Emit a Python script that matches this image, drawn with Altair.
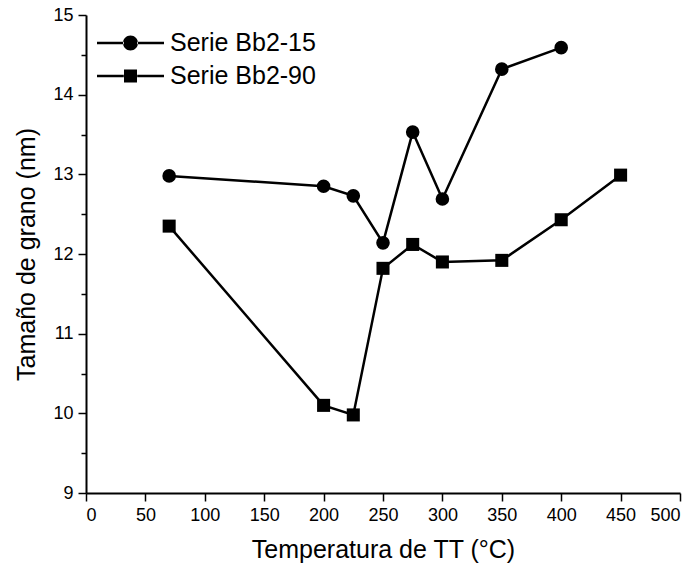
import altair as alt
import pandas as pd

# ---- data ----
series_names = ["Serie Bb2-15", "Serie Bb2-90"]

temp_bb2_15 = [70, 200, 225, 250, 275, 300, 350, 400]
size_bb2_15 = [12.98, 12.85, 12.73, 12.14, 13.53, 12.69, 14.32, 14.59]

temp_bb2_90 = [70, 200, 225, 250, 275, 300, 350, 400, 450]
size_bb2_90 = [12.35, 10.10, 9.98, 11.82, 12.12, 11.90, 11.92, 12.43, 12.99]

x_ticks = [0, 50, 100, 150, 200, 250, 300, 350, 400, 450, 500]
y_ticks = [9, 9.5, 10, 10.5, 11, 11.5, 12, 12.5, 13, 13.5, 14, 14.5, 15]

rows = []
for t, s in zip(temp_bb2_15, size_bb2_15):
    rows.append({"serie": series_names[0], "temp": t, "size": s})
for t, s in zip(temp_bb2_90, size_bb2_90):
    rows.append({"serie": series_names[1], "temp": t, "size": s})
df = pd.DataFrame(rows)

FONT = "Liberation Sans"

x_enc = alt.X(
    "temp:Q",
    scale=alt.Scale(domain=[0, 500], nice=False, zero=False),
    axis=alt.Axis(
        values=x_ticks,
        title="Temperatura de TT (°C)",
        format="d",
        tickSize=8,
        labelPadding=5,
        titlePadding=13,
    ),
)
y_enc = alt.Y(
    "size:Q",
    scale=alt.Scale(domain=[9, 15], nice=False, zero=False),
    axis=alt.Axis(
        values=y_ticks,
        title="Tamaño de grano (nm)",
        labelExpr="datum.value % 1 === 0 ? '' + datum.value : ''",
        tickSize={"condition": {"test": "datum.value % 1 === 0", "value": 8}, "value": 5},
        labelPadding=5,
        titlePadding=13,
    ),
)

base = alt.Chart(df)

lines = base.mark_line(color="black", strokeWidth=2.5).encode(
    x=x_enc, y=y_enc, detail="serie:N"
)

points = base.mark_point(filled=True, color="black", opacity=1).encode(
    x=x_enc,
    y=y_enc,
    shape=alt.Shape(
        "serie:N",
        scale=alt.Scale(domain=series_names, range=["circle", "square"]),
        legend=None,
    ),
    size=alt.Size(
        "serie:N",
        scale=alt.Scale(domain=series_names, range=[185, 170]),
        legend=None,
    ),
)

seg = "M-1,-0.037L-0.2,-0.037L-0.2,0.037L-1,0.037Z M0.2,-0.037L1,-0.037L1,0.037L0.2,0.037Z"
circle_path = seg + " M-0.224,0A0.224,0.224 0 1,0 0.224,0A0.224,0.224 0 1,0 -0.224,0Z"
square_path = seg + " M-0.194,-0.194L0.194,-0.194L0.194,0.194L-0.194,0.194Z"

legend_layer = (
    base.transform_filter("false")
    .mark_point(filled=True, color="black", opacity=1)
    .encode(
        x=x_enc,
        y=y_enc,
        shape=alt.Shape(
            "serie:N",
            scale=alt.Scale(domain=series_names, range=[circle_path, square_path]),
            legend=alt.Legend(
                title=None,
                orient="none",
                legendX=11,
                legendY=16,
                padding=0,
                symbolSize=4489,
                symbolStrokeWidth=0,
                symbolFillColor="black",
                symbolOpacity=1,
                clipHeight=24,
                rowPadding=8,
                labelOffset=6,
                labelFontSize=25,
                labelFont=FONT,
                labelColor="black",
                labelLimit=300,
            ),
        ),
    )
)

chart = (
    alt.layer(lines, points, legend_layer)
    .resolve_scale(shape="independent", size="independent")
    .properties(
        width=594,
        height=478,
        autosize=alt.AutoSizeParams(type="none"),
        padding={"left": 86, "top": 15, "right": 15, "bottom": 78},
        background="white",
    )
    .configure_view(stroke=None)
    .configure_axis(
        labelFont=FONT,
        labelFontSize=18,
        labelColor="black",
        titleFont=FONT,
        titleFontSize=25,
        titleFontWeight="normal",
        titleColor="black",
        domainColor="black",
        domainWidth=2,
        tickColor="black",
        tickWidth=1.5,
        grid=False,
    )
)

chart.save("out.html", embed_options={"renderer": "svg", "actions": False})
